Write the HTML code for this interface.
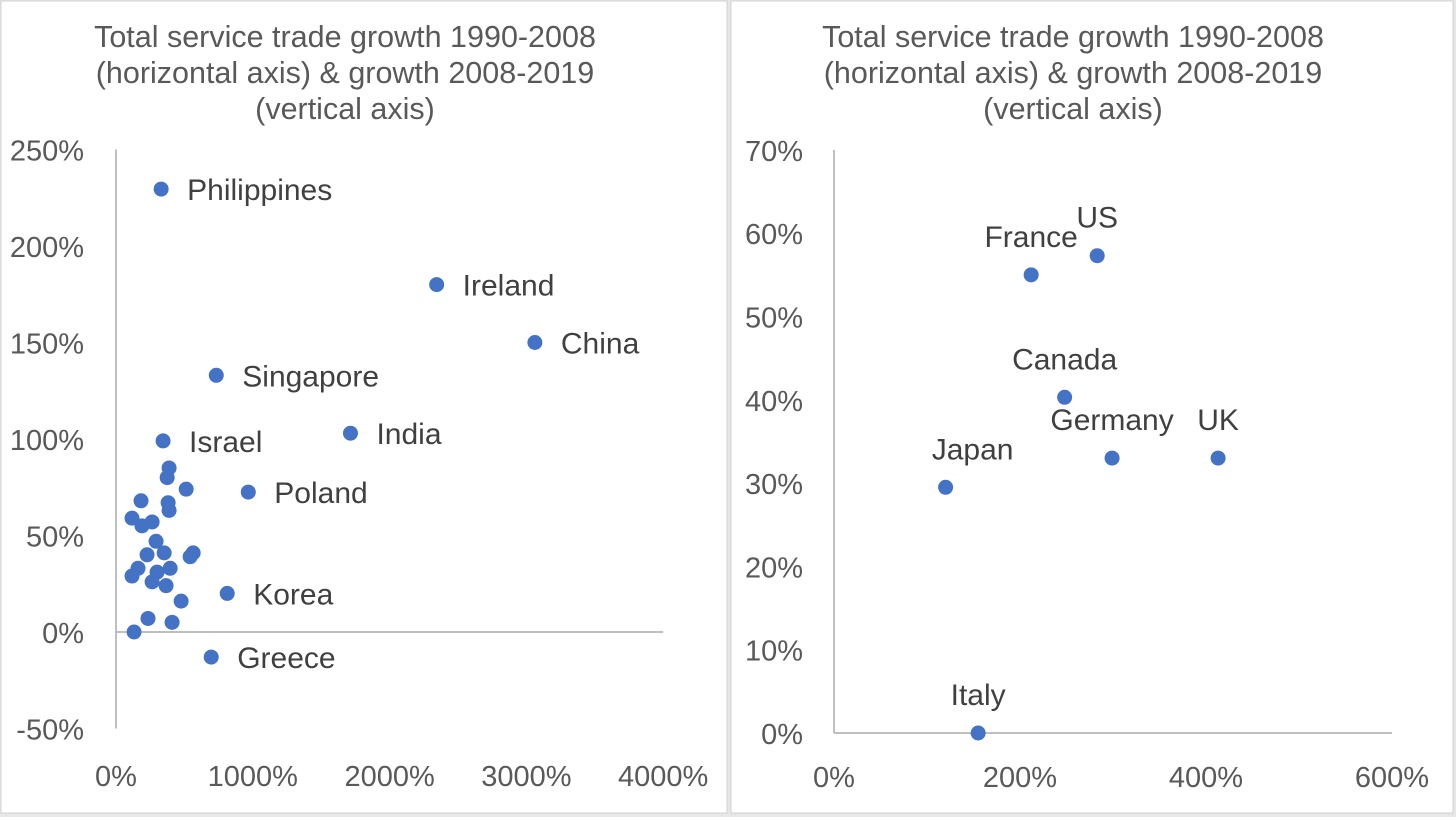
<!DOCTYPE html>
<html><head><meta charset="utf-8">
<style>
body{margin:0;width:1456px;height:817px;background:#e7e7e7;overflow:hidden;font-family:"Liberation Sans",sans-serif}
svg{position:absolute;left:0;top:0}
text{font-family:"Liberation Sans",sans-serif}
</style></head><body>
<svg id="c" width="1456" height="817">
<rect x="1" y="1" width="726" height="812" fill="#fff" stroke="#d0d0d0"/>
<rect x="731" y="1" width="722" height="812" fill="#fff" stroke="#d0d0d0"/>
</svg>
<script>
// Left chart data
const leftNames=["Philippines","Ireland","China","Singapore","India","Israel","Poland","Korea","Greece"];
const leftX=[330,2344,3062,733,1714,344,967,813,696];
const leftY=[229.5,180,150,133,103,99,72.5,20,-13];
const clusterX=[388,374,513,183,381,388,117,190,264,293,227,352,564,542,161,117,396,264,366,300,476,234,410,132];
const clusterY=[85,80,74,68,67,63,59,55,57,47,40,41,41,39,33,29,33,26,24,31,16,7,5,0];
const leftYTicks=[250,200,150,100,50,0,-50];
const leftXTicks=[0,1000,2000,3000,4000];
// Right chart data
const rightNames=["France","US","Canada","Germany","UK","Japan","Italy"];
const rightX=[212,283,248,299,413,120,155];
const rightY=[55,57.3,40.3,33,33,29.5,0];
const rightLabelDx=[0,0,0,0,0,27,0];
const rightYTicks=[70,60,50,40,30,20,10,0];
const rightXTicks=[0,200,400,600];

const svg=document.getElementById('c');
const NS='http://www.w3.org/2000/svg';
function mk(tag,attrs,txt){const e=document.createElementNS(NS,tag);for(const k in attrs)e.setAttribute(k,attrs[k]);if(txt!==undefined)e.textContent=txt;svg.appendChild(e);return e;}

const lx=v=>116+v*0.1368, ly=v=>632-v*1.93;
const rx=v=>834+v*0.93, ry=v=>733-v*8.33;

function title(cx,pre){
  const lines=["Total service trade growth 1990-2008","(horizontal axis) & growth 2008-2019","(vertical axis)"];
  lines.forEach((t,i)=>{const e=mk('text',{x:cx,y:47+i*36,'text-anchor':'middle','font-size':30.5,fill:'#595959'},t);
  
  });
}
title(345,'left');title(1073,'right');

let a=mk('line',{x1:lx(0),y1:ly(250),x2:lx(0),y2:ly(-50),stroke:'#bfbfbf','stroke-width':2});


a=mk('line',{x1:lx(0),y1:ly(0),x2:lx(4000),y2:ly(0),stroke:'#bfbfbf','stroke-width':2});


leftYTicks.forEach(v=>{const e=mk('text',{x:84,y:ly(v)+11,'text-anchor':'end','font-size':29,fill:'#595959'},v+'%');

});
leftXTicks.forEach(v=>{const e=mk('text',{x:lx(v),y:786,'text-anchor':'middle','font-size':29,fill:'#595959'},v+'%');

});
clusterX.forEach((x,i)=>{const e=mk('circle',{cx:lx(x),cy:ly(clusterY[i]),r:7.5,fill:'#4472c4'});

});
leftNames.forEach((n,i)=>{const e=mk('circle',{cx:lx(leftX[i]),cy:ly(leftY[i]),r:7.5,fill:'#4472c4'});


const t=mk('text',{x:lx(leftX[i])+26,y:ly(leftY[i])+11,'font-size':30,fill:'#404040'},n);

});

a=mk('line',{x1:rx(0),y1:ry(70),x2:rx(0),y2:ry(0),stroke:'#bfbfbf','stroke-width':2});


a=mk('line',{x1:rx(0),y1:ry(0),x2:rx(600),y2:ry(0),stroke:'#bfbfbf','stroke-width':2});


rightYTicks.forEach(v=>{const e=mk('text',{x:803,y:ry(v)+11,'text-anchor':'end','font-size':29,fill:'#595959'},v+'%');

});
rightXTicks.forEach(v=>{const e=mk('text',{x:rx(v),y:787,'text-anchor':'middle','font-size':29,fill:'#595959'},v+'%');

});
rightNames.forEach((n,i)=>{const e=mk('circle',{cx:rx(rightX[i]),cy:ry(rightY[i]),r:7.5,fill:'#4472c4'});


const t=mk('text',{x:rx(rightX[i])+rightLabelDx[i],y:ry(rightY[i])-28,'text-anchor':'middle','font-size':30,fill:'#404040'},n);

});
</script>
</body></html>
